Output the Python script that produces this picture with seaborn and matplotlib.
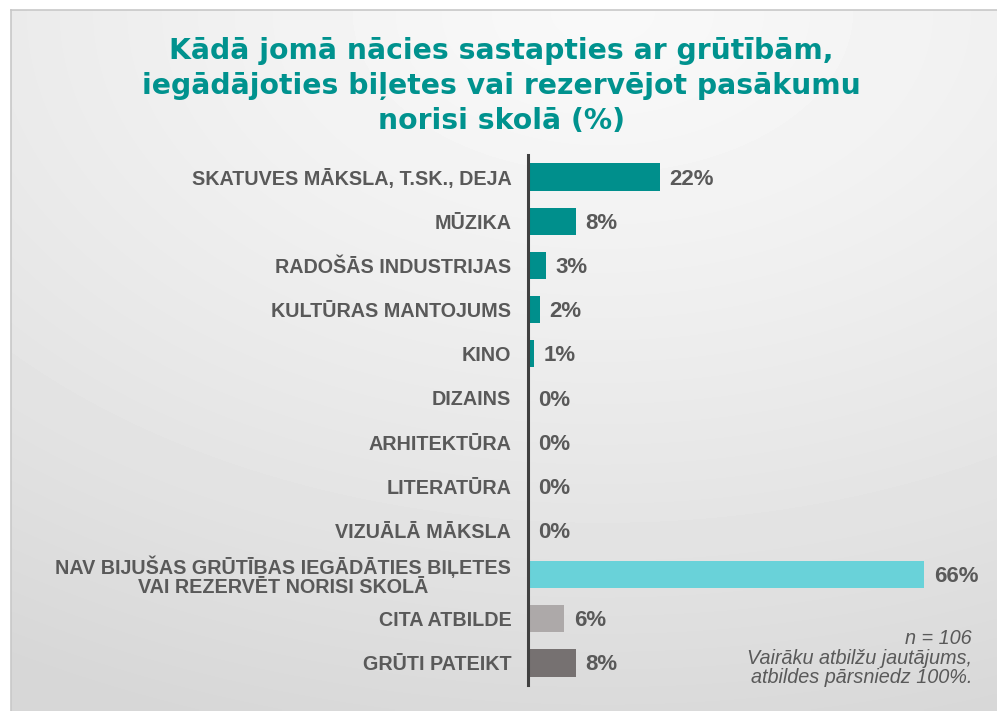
import numpy as np
import pandas as pd
import matplotlib
matplotlib.use("Agg")
import matplotlib.pyplot as plt
import seaborn as sns

categories = [
    "SKATUVES MĀKSLA, T.SK., DEJA",
    "MŪZIKA",
    "RADOŠĀS INDUSTRIJAS",
    "KULTŪRAS MANTOJUMS",
    "KINO",
    "DIZAINS",
    "ARHITEKTŪRA",
    "LITERATŪRA",
    "VIZUĀLĀ MĀKSLA",
    "NAV BIJUŠAS GRŪTĪBAS IEGĀDĀTIES BIĻETES\nVAI REZERVĒT NORISI SKOLĀ",
    "CITA ATBILDE",
    "GRŪTI PATEIKT",
]
values = [22, 8, 3, 2, 1, 0, 0, 0, 0, 66, 6, 8]
value_labels = ["22%", "8%", "3%", "2%", "1%", "0%", "0%", "0%", "0%", "66%", "6%", "8%"]
groups = ["joma"] * 9 + ["nav"] + ["cita"] + ["grūti"]
group_colors = {"joma": "#008F8C", "nav": "#69D2D9", "cita": "#ADA9A9", "grūti": "#767171"}

title = "Kādā jomā nācies sastapties ar grūtībām,\niegādājoties biļetes vai rezervējot pasākumu\nnorisi skolā (%)"
note = "n = 106\nVairāku atbilžu jautājums,\natbildes pārsniedz 100%."

sns.set_theme(style="white")
plt.rcParams['font.family'] = ['Liberation Sans', 'DejaVu Sans']

W, H = 997, 711
fig = plt.figure(figsize=(W / 100, H / 100), dpi=100)
fig.patch.set_facecolor("white")

# background gradient panel
bg = fig.add_axes([11 / W, 0, (W - 11) / W, (H - 10) / H])
yy, xx = np.mgrid[0:1:200j, 0:1:300j]
r = np.sqrt(((xx - 0.6) * 1.0) ** 2 + ((yy - 0.0) * 1.1) ** 2)
r = np.clip(r / 1.2, 0, 1)
c0, c1 = 0.975, 0.84
img = c0 + (c1 - c0) * r ** 1.3
bg.imshow(img, cmap="gray", vmin=0, vmax=1, aspect="auto", extent=(0, 1, 1, 0), interpolation="bilinear")
bg.set_xlim(0, 1); bg.set_ylim(1, 0)
bg.set_xticks([]); bg.set_yticks([])
for s in ["right", "bottom"]:
    bg.spines[s].set_visible(False)
for s in ["left", "top"]:
    bg.spines[s].set_color("#c8c8c8")
    bg.spines[s].set_linewidth(1.2)

df = pd.DataFrame({"cat": categories, "val": values, "grp": groups})

ax_left, ax_right = 528, 980
ax_top, ax_bot = 155, 685
ax = fig.add_axes([ax_left / W, 1 - ax_bot / H, (ax_right - ax_left) / W, (ax_bot - ax_top) / H])
ax.patch.set_alpha(0)
sns.barplot(data=df, x="val", y="cat", hue="grp", palette=group_colors, orient="h",
            dodge=False, width=0.62, legend=False, ax=ax, saturation=1, linewidth=0)
scale_max = (ax_right - ax_left) / 6.0
ax.set_xlim(0, scale_max)
ax.set_ylim(len(categories) - 0.5, -0.5)
ax.set_xlabel(""); ax.set_ylabel("")
ax.set_xticks([])
for s in ["top", "right", "bottom"]:
    ax.spines[s].set_visible(False)
ax.spines["left"].set_color("#404040")
ax.spines["left"].set_linewidth(2.2)
ax.tick_params(axis="y", length=0, pad=12)
ax.set_yticks(range(len(categories)))
ax.set_yticklabels(categories, fontsize=14.2, fontweight="bold", color="#595959",
                   multialignment="center", linespacing=1.0)

for i, (v, lab) in enumerate(zip(values, value_labels)):
    ax.annotate(lab, xy=(v, i), xytext=(7, -1.5), textcoords="offset points",
                ha="left", va="center", fontsize=16, fontweight="bold", color="#595959")

fig.text(0.503, 1 - 86 / H, title, ha="center", va="center", fontsize=20.3, fontweight="bold",
         family=["DejaVu Sans"], color="#00928E", linespacing=1.34)

fig.text(972 / W, 1 - 658 / H, note, ha="right", va="center", fontsize=14.3, style="italic",
         color="#595959", linespacing=1.06)

fig.savefig("out.png", dpi=100)
